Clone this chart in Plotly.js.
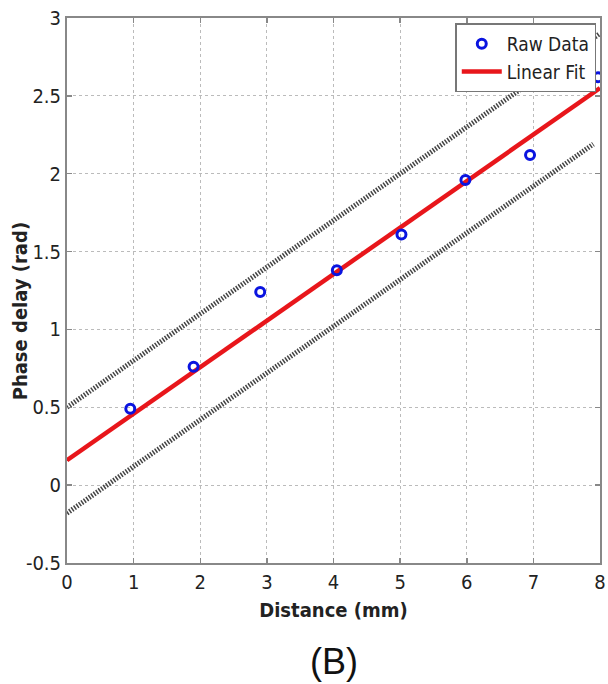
<!DOCTYPE html>
<html><head><meta charset="utf-8">
<script src="https://cdn.plot.ly/plotly-3.0.1.min.js"></script>
<style>html,body{margin:0;padding:0;background:#fff;}#plot{width:608px;height:684px;}</style>
</head><body><div id="plot"></div>
<script>
const rawX = [0.95, 1.9, 2.9, 4.05, 5.02, 5.98, 6.95, 7.97];
const rawY = [0.49, 0.76, 1.24, 1.38, 1.61, 1.96, 2.12, 2.62];
const fitX = [0, 8];
const fitY = [0.16, 2.55];
const upperX = [0, 8];
const upperY = [0.5, 2.9];
const lowerX = [0, 7.9];
const lowerY = [-0.18, 2.19];
const xTicks = [0,1,2,3,4,5,6,7,8];
const yTicks = [-0.5,0,0.5,1,1.5,2,2.5,3];

const FONT = "DejaVu Sans Condensed, Arial Narrow, sans-serif";
const traces = [
  {x: upperX, y: upperY, mode:'lines', line:{color:'#444', width:5, dash:'1.5px,1.5px'}, showlegend:false, hoverinfo:'skip'},
  {x: lowerX, y: lowerY, mode:'lines', line:{color:'#444', width:5, dash:'1.5px,1.5px'}, showlegend:false, hoverinfo:'skip'},
  {x: fitX, y: fitY, mode:'lines', name:'Linear Fit', line:{color:'#e8161b', width:4.5}},
  {x: rawX, y: rawY, mode:'markers', name:'Raw Data', marker:{symbol:'circle-open', size:9, color:'#0a14e0', line:{width:3, color:'#0a14e0'}}}
];
const axisCommon = {
  showline:true, mirror:'ticks', linecolor:'#888', linewidth:2,
  ticks:'inside', ticklen:5, tickcolor:'#888', tickwidth:1.5,
  showgrid:true, gridcolor:'#bbb', griddash:'dot', gridwidth:1,
  zeroline:false, ticklabeloverflow:'allow',
  tickfont:{family:FONT, size:20, color:'#222'}
};
const layout = {
  width:608, height:684,
  margin:{l:67, r:8, t:18, b:121},
  paper_bgcolor:'#fff', plot_bgcolor:'#fff',
  xaxis: Object.assign({}, axisCommon, {range:[0,8], tickvals:xTicks, ticktext:xTicks.map(String),
    title:{text:'<b>Distance (mm)</b>', font:{family:FONT, size:20, color:'#222'}, standoff:10}}),
  yaxis: Object.assign({}, axisCommon, {range:[-0.5,3], tickvals:yTicks, ticktext:yTicks.map(String)}),
  legend:{x:0.993, xanchor:'right', y:0.99, yanchor:'top', bgcolor:'#fff', bordercolor:'#777', borderwidth:1.5,
    font:{family:FONT, size:19, color:'#222'}, traceorder:'reversed', itemwidth:40, tracegroupgap:0},
  annotations:[
    {text:'<b>Phase delay (rad)</b>', textangle:-90, xref:'paper', yref:'paper', x:-0.088, y:0.462,
      xanchor:'center', yanchor:'middle', showarrow:false, font:{family:FONT, size:20, color:'#222'}},
    {text:'(B)', xref:'paper', yref:'paper', x:0.5, y:-0.14, yanchor:'top', showarrow:false,
      font:{family:'Liberation Sans, Arial, sans-serif', size:36, color:'#111'}}],
  showlegend:true
};
Plotly.newPlot('plot', traces, layout, {displayModeBar:false, staticPlot:true});
</script></body></html>
